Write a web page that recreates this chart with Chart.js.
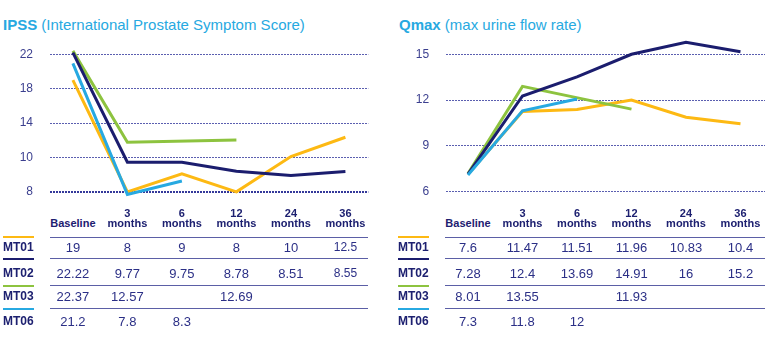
<!DOCTYPE html>
<html>
<head>
<meta charset="utf-8">
<script src="https://cdn.jsdelivr.net/npm/chart.js@4.4.1/dist/chart.umd.min.js"></script>
<style>
  body { margin: 0; width: 765px; height: 340px; position: relative; overflow: hidden; background: #fff;
         font-family: "Liberation Sans", Arial, sans-serif; }
  canvas { position: absolute; top: 0; }
  .title { position: absolute; top: 24px; transform: translateY(-50%); font-size: 15px; color: #27a9e1; white-space: nowrap; }
  .title b { font-weight: bold; }
  .cell { position: absolute; transform: translate(-50%, -50%); white-space: nowrap; color: #2b2f86; font-size: 13px; }
  .head { font-weight: bold; font-size: 11px; color: #1d2070; }
  .label { position: absolute; transform: translateY(-50%); font-weight: bold; font-size: 12px; color: #1d2070; }
  .rule { position: absolute; height: 1px; background: #5b5fa6; }
  .mark { position: absolute; height: 2px; }
</style>
</head>
<body>
<div class="title" style="left:3px"><b>IPSS</b> (International Prostate Symptom Score)</div>
<div class="title" style="left:399px"><b>Qmax</b> (max urine flow rate)</div>
<canvas id="ipss" width="380" height="216" style="left:0"></canvas>
<canvas id="qmax" width="380" height="216" style="left:385px"></canvas>
<div id="tables"></div>
<script>
// categories
const periods = ["Baseline", "3 months", "6 months", "12 months", "24 months", "36 months"];
const studies = ["MT01", "MT02", "MT03", "MT06"];
const studyColors = ["#fdb913", "#1b1d6e", "#8dc33f", "#27a9e1"];

// axis ticks (IPSS axis is not linear: every step gets the same height)
const ipssTicks = [8, 10, 14, 18, 22];
const qmaxTicks = [6, 9, 12, 15];

// values printed in the tables
const ipssMT01 = [19, 8, 9, 8, 10, 12.5];
const ipssMT02 = [22.22, 9.77, 9.75, 8.78, 8.51, 8.55];
const ipssMT03 = [22.37, 12.57, null, 12.69, null, null];
const ipssMT06 = [21.2, 7.8, 8.3, null, null, null];

const qmaxMT01 = [7.6, 11.47, 11.51, 11.96, 10.83, 10.4];
const qmaxMT02 = [7.28, 12.4, 13.69, 14.91, 16, 15.2];
const qmaxMT03 = [8.01, 13.55, null, 11.93, null, null];
const qmaxMT06 = [7.3, 11.8, 12, null, null, null];

// the lines as drawn (they don't follow the tables exactly)
const ipssLineMT01 = [19, 8, 9.05, 8, 10.1, 12.35];
const ipssLineMT02 = [22.2, 9.72, 9.72, 9.2, 8.95, 9.18];
const ipssLineMT03 = [22.4, 11.76, null, 12.04, null, null];
const ipssLineMT06 = [20.95, 7.85, 8.63, null, null, null];

const qmaxLineMT01 = [7.15, 11.26, 11.39, 12.0, 10.88, 10.45];
const qmaxLineMT02 = [7.15, 12.27, 13.52, 15.0, 15.79, 15.17];
const qmaxLineMT03 = [7.2, 12.9, null, 11.41, null, null];
const qmaxLineMT06 = [7.1, 11.3, 12.07, null, null, null];

// y scale where each tick interval gets equal height
class BreakScale extends Chart.LinearScale {
  buildTicks() {
    return ipssTicks.map(v => ({ value: v }));
  }
  getPixelForValue(value) {
    const n = ipssTicks.length - 1;
    let i = 0;
    while (i < n - 1 && value > ipssTicks[i + 1]) i++;
    const frac = (value - ipssTicks[i]) / (ipssTicks[i + 1] - ipssTicks[i]);
    return this.getPixelForDecimal((i + frac) / n);
  }
  getValueForPixel(pixel) {
    const n = ipssTicks.length - 1;
    const d = this.getDecimalForPixel(pixel) * n;
    const i = Math.max(0, Math.min(n - 1, Math.floor(d)));
    return ipssTicks[i] + (d - i) * (ipssTicks[i + 1] - ipssTicks[i]);
  }
}
BreakScale.id = "breaks";
BreakScale.defaults = Chart.LinearScale.defaults;
Chart.register(BreakScale);

function makeDatasets(lines) {
  // first dataset is drawn on top
  const drawOrder = [3, 1, 2, 0];
  return lines.map((data, i) => ({
    label: studies[i],
    data: data.map((v, j) => ({ x: j, y: v })),
    borderColor: studyColors[i],
    borderWidth: 3,
    pointRadius: 0,
    tension: 0,
    spanGaps: true,
    clip: false,
    fill: false,
    borderJoinStyle: "miter",
    order: drawOrder[i],
  }));
}

function makeChart(id, lines, yScale, xMin, xMax, axisWidth, padRight, boldValue) {
  return new Chart(document.getElementById(id), {
    type: "line",
    data: { datasets: makeDatasets(lines) },
    options: {
      responsive: false,
      animation: false,
      events: [],
      layout: { padding: { left: 0, top: 54.3, right: padRight, bottom: 9.3 } },
      plugins: { legend: { display: false }, title: { display: false }, tooltip: { enabled: false } },
      scales: {
        x: { type: "linear", min: xMin, max: xMax, display: false },
        y: Object.assign(yScale, {
          afterFit: (scale) => { scale.width = axisWidth; },
          border: { display: false, dash: [2, 1] },
          grid: {
            drawTicks: false,
            color: (ctx) => ctx.tick && ctx.tick.value === boldValue ? "#34389a" : "#5b5fb0",
            lineWidth: (ctx) => ctx.tick && ctx.tick.value === boldValue ? 2 : 1,
          },
          ticks: {
            padding: 17,
            color: "#3b3f8f",
            font: { family: "'Liberation Sans', Arial, sans-serif", size: 12 },
            callback: (v) => String(v),
          },
        }),
      },
    },
  });
}

const ipssChart = makeChart("ipss", [ipssLineMT01, ipssLineMT02, ipssLineMT03, ipssLineMT06],
  { type: "breaks", min: 8, max: 22 }, -0.42, 5.42, 50, 11.7, 8);

const qmaxChart = makeChart("qmax", [qmaxLineMT01, qmaxLineMT02, qmaxLineMT03, qmaxLineMT06],
  { type: "linear", min: 6, max: 15, afterBuildTicks: (s) => { s.ticks = qmaxTicks.map(v => ({ value: v })); } },
  -0.4, 5.45, 61.2, 0, -1);

// tables under each chart
const headY = [212.7, 223.3];
const rowY = [247, 273, 296, 320.5];
const ruleY = [236.7, 258.3, 285, 308.3];
const tables = document.getElementById("tables");

function addDiv(cls, css, text) {
  const d = document.createElement("div");
  d.className = cls;
  Object.assign(d.style, css);
  if (text !== undefined) d.textContent = text;
  tables.appendChild(d);
  return d;
}

function buildTable(chart, offsetX, values, ruleLeft, ruleRight, labelLeft, lastSmall) {
  const xs = periods.map((p, i) => offsetX + chart.scales.x.getPixelForValue(i));
  periods.forEach((p, i) => {
    const parts = p.split(" ");
    if (parts.length === 1) {
      addDiv("cell head", { left: xs[i] + "px", top: headY[1] + "px" }, p);
    } else {
      addDiv("cell head", { left: xs[i] + "px", top: headY[0] + "px" }, parts[0]);
      addDiv("cell head", { left: xs[i] + "px", top: headY[1] + "px" }, parts[1]);
    }
  });
  studies.forEach((s, r) => {
    addDiv("rule", { left: ruleLeft + "px", width: (ruleRight - ruleLeft) + "px", top: ruleY[r] + "px" });
    addDiv("mark", { left: labelLeft + "px", width: "31px", top: (ruleY[r] - 0.5) + "px", background: studyColors[r] });
    addDiv("label", { left: labelLeft + "px", top: rowY[r] + "px" }, s);
    values[r].forEach((v, i) => {
      if (v === null) return;
      const css = { left: xs[i] + "px", top: rowY[r] + "px" };
      if (lastSmall && i === periods.length - 1) css.fontSize = "12px";
      addDiv("cell", css, String(v));
    });
  });
}

buildTable(ipssChart, 0, [ipssMT01, ipssMT02, ipssMT03, ipssMT06], 50, 368, 3, true);
buildTable(qmaxChart, 385, [qmaxMT01, qmaxMT02, qmaxMT03, qmaxMT06], 445, 765, 398, false);
</script>
</body>
</html>
